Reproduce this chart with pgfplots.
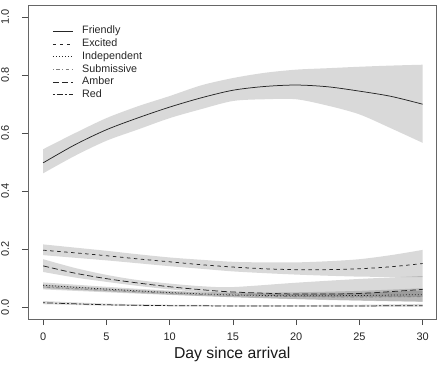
\documentclass[border=0pt]{standalone}
\usepackage{fontspec}
\setmainfont{Liberation Sans}
\usepackage{pgfplots}
\usepackage{pgfplotstable}
\pgfplotsset{compat=1.18}
\usepgfplotslibrary{fillbetween}

\pgfplotstableread{
x    m     u     l
0    0.498 0.545 0.462
2.5  0.560 0.600 0.522
5    0.612 0.652 0.574
7.5  0.653 0.693 0.613
10   0.690 0.728 0.652
12.5 0.722 0.765 0.683
15   0.748 0.790 0.711
17.5 0.761 0.808 0.717
20   0.766 0.819 0.717
22.5 0.760 0.824 0.695
25   0.745 0.829 0.665
27.5 0.727 0.833 0.617
30   0.700 0.836 0.567
}\friendly

\pgfplotstableread{
x    m     u     l
0    0.197 0.217 0.180
2.5  0.188 0.206 0.171
5    0.178 0.195 0.162
7.5  0.167 0.183 0.152
10   0.157 0.172 0.142
12.5 0.147 0.164 0.133
15   0.139 0.157 0.124
17.5 0.133 0.155 0.118
20   0.130 0.155 0.113
22.5 0.130 0.159 0.109
25   0.133 0.166 0.106
27.5 0.140 0.180 0.105
30   0.151 0.198 0.104
}\excited

\pgfplotstableread{
x    m     u     l
0    0.076 0.086 0.066
5    0.063 0.071 0.055
10   0.051 0.058 0.044
15   0.043 0.051 0.035
20   0.040 0.052 0.029
25   0.041 0.057 0.024
30   0.044 0.066 0.020
}\independent

\pgfplotstableread{
x    m     u     l
0    0.070 0.079 0.062
5    0.059 0.066 0.052
10   0.049 0.055 0.043
15   0.041 0.048 0.035
20   0.037 0.047 0.028
25   0.036 0.050 0.023
30   0.037 0.058 0.019
}\submissive

\pgfplotstableread{
x    m     u     l
0    0.143 0.166 0.122
2.5  0.118 0.136 0.103
5    0.099 0.112 0.088
7.5  0.084 0.094 0.074
10   0.071 0.082 0.062
12.5 0.061 0.073 0.053
15   0.053 0.070 0.046
20   0.046 0.085 0.037
25   0.048 0.098 0.035
30   0.062 0.108 0.036
}\amber

\pgfplotstableread{
x    m     u     l
0    0.016 0.022 0.011
5    0.009 0.013 0.006
10   0.006 0.009 0.004
15   0.005 0.008 0.003
20   0.005 0.008 0.003
25   0.005 0.009 0.003
30   0.006 0.012 0.003
}\red

\tikzset{band/.style={fill=black, fill opacity=0.15, draw=none}}

\begin{document}
\begin{tikzpicture}
\path (0,0) rectangle (437bp,371bp);
\begin{axis}[
  at={(28bp,52bp)}, anchor=south west,
  scale only axis, width=408.5bp, height=313.5bp,
  xmin=-1.2, xmax=31.1, ymin=-0.04, ymax=1.04,
  xtick={0,5,...,30}, ytick={0,0.2,0.4,0.6,0.8,1.0},
  axis line style={black!60, line width=0.8bp},
  tick style={black!70, line width=0.7bp},
  tick align=outside, major tick length=6bp,
  xtick pos=bottom, ytick pos=left,
  /pgf/number format/assume math mode=true,
  ticklabel style={font=\fontsize{11}{13}\selectfont, text=black!85},
  yticklabel style={/pgf/number format/fixed, /pgf/number format/fixed zerofill, /pgf/number format/precision=1, xshift=-17bp, rotate=90, anchor=center, inner sep=0pt},
  xticklabel style={anchor=north, inner sep=0pt, yshift=-8bp},
  xlabel={Day since arrival},
  xlabel style={at={(axis description cs:0.5,0)}, anchor=base, inner sep=0pt, yshift=-39bp, font=\fontsize{15.8}{18}\selectfont, text=black!90},
  legend cell align=left,
  legend style={draw=none, fill=none, at={(axis description cs:0.052,0.945)}, anchor=north west,
    font=\fontsize{10.8}{12}\selectfont, text=black!85, row sep=0.2bp,
    nodes={inner sep=1bp, text height=8bp, text depth=2.5bp}},
  legend image code/.code={\draw[#1] (0bp,0bp) -- (20bp,0bp); \path (28bp,0bp);},
]
% bands
\addplot[draw=none, name path=FU, forget plot, smooth] table[x=x,y=u]{\friendly};
\addplot[draw=none, name path=FL, forget plot, smooth] table[x=x,y=l]{\friendly};
\addplot[band, forget plot] fill between[of=FU and FL];
\addplot[draw=none, name path=EU, forget plot, smooth] table[x=x,y=u]{\excited};
\addplot[draw=none, name path=EL, forget plot, smooth] table[x=x,y=l]{\excited};
\addplot[band, forget plot] fill between[of=EU and EL];
\addplot[draw=none, name path=IU, forget plot, smooth] table[x=x,y=u]{\independent};
\addplot[draw=none, name path=IL, forget plot, smooth] table[x=x,y=l]{\independent};
\addplot[band, forget plot] fill between[of=IU and IL];
\addplot[draw=none, name path=SU, forget plot, smooth] table[x=x,y=u]{\submissive};
\addplot[draw=none, name path=SL, forget plot, smooth] table[x=x,y=l]{\submissive};
\addplot[band, forget plot] fill between[of=SU and SL];
\addplot[draw=none, name path=AU, forget plot, smooth] table[x=x,y=u]{\amber};
\addplot[draw=none, name path=AL, forget plot, smooth] table[x=x,y=l]{\amber};
\addplot[band, forget plot] fill between[of=AU and AL];
\addplot[draw=none, name path=RU, forget plot, smooth] table[x=x,y=u]{\red};
\addplot[draw=none, name path=RL, forget plot, smooth] table[x=x,y=l]{\red};
\addplot[band, forget plot] fill between[of=RU and RL];
% lines
\addplot[black!85, line width=0.75bp, smooth, no markers] table[x=x,y=m]{\friendly};
\addlegendentry{Friendly}
\addplot[black!85, line width=0.75bp, smooth, no markers, dash pattern=on 3.5bp off 3.5bp] table[x=x,y=m]{\excited};
\addlegendentry{Excited}
\addplot[black!85, line width=0.75bp, smooth, no markers, dash pattern=on 1bp off 2bp] table[x=x,y=m]{\independent};
\addlegendentry{Independent}
\addplot[black!50, line width=0.75bp, smooth, no markers, dash pattern=on 1bp off 2.5bp on 3.5bp off 2.5bp] table[x=x,y=m]{\submissive};
\addlegendentry{Submissive}
\addplot[black!85, line width=0.75bp, smooth, no markers, dash pattern=on 6bp off 3bp] table[x=x,y=m]{\amber};
\addlegendentry{Amber}
\addplot[black!85, line width=0.75bp, smooth, no markers, dash pattern=on 2bp off 2bp on 6bp off 2bp] table[x=x,y=m]{\red};
\addlegendentry{Red}
\end{axis}
\end{tikzpicture}
\end{document}
